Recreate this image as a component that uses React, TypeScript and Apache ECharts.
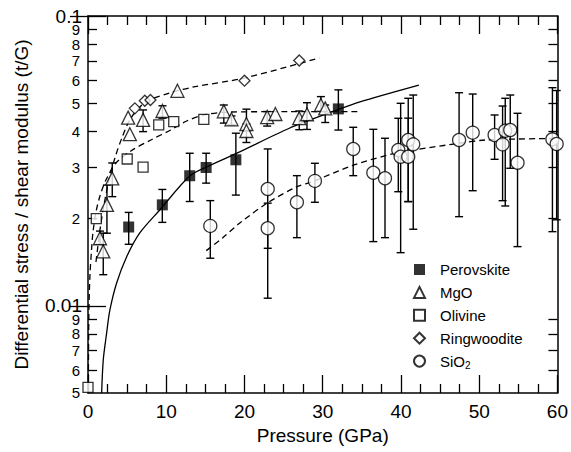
import React, { useEffect, useRef } from 'react';
import * as echarts from 'echarts';

// ---------- data (pressure GPa, t/G) ----------
const perovskiteP = [5.2, 9.5, 13.0, 15.1, 18.9, 32.0];
const perovskiteR = [0.0187, 0.0223, 0.0281, 0.0300, 0.0319, 0.0478];
const perovskiteLo = [0.0163, 0.0194, 0.0229, 0.0265, 0.0241, 0.0404];
const perovskiteHi = [0.0210, 0.0252, 0.0336, 0.0336, 0.0394, 0.0556];

const mgoP = [1.53, 1.95, 2.42, 3.10, 5.13, 5.35, 7.04, 9.52, 11.43, 17.36, 18.34, 20.25, 20.25, 22.9, 23.95, 27.0, 27.99, 29.77, 30.32];
const mgoR = [0.0171, 0.0154, 0.0223, 0.0275, 0.0446, 0.0391, 0.0438, 0.0470, 0.0552, 0.0469, 0.0440, 0.0424, 0.0401, 0.0448, 0.0459, 0.0444, 0.0458, 0.0493, 0.0480];
const mgoLo = [0.0163, 0.0128, 0.0178, 0.0238, null, null, 0.0399, 0.0444, null, 0.0427, 0.0421, 0.0401, 0.0366, 0.0417, null, 0.0405, 0.0406, 0.0470, 0.0429];
const mgoHi = [0.0181, 0.0178, 0.0261, 0.0311, null, null, 0.0474, 0.0490, null, 0.0493, 0.0452, 0.0477, 0.0424, 0.0468, null, 0.0470, 0.0502, 0.0527, 0.0493];

const olivineP = [0.0, 1.06, 5.01, 7.04, 9.04, 10.96, 14.8];
const olivineR = [0.00523, 0.0200, 0.0321, 0.0301, 0.0421, 0.0432, 0.0440];

const ringwooditeP = [5.99, 7.26, 7.98, 20.0, 27.0];
const ringwooditeR = [0.0480, 0.0510, 0.0513, 0.0598, 0.0702];

const sio2P = [15.63, 22.97, 22.97, 26.7, 29.0, 33.9, 36.47, 37.96, 39.66, 39.96, 40.93, 40.93, 41.57, 47.43, 49.17, 51.97, 52.99, 53.33, 53.97, 54.9, 59.36, 59.9];
const sio2R = [0.01886, 0.0253, 0.01851, 0.02276, 0.02697, 0.03477, 0.02879, 0.02754, 0.03447, 0.03268, 0.03733, 0.03268, 0.03607, 0.03733, 0.03957, 0.03885, 0.03607, 0.04018, 0.04041, 0.03117, 0.03754, 0.03617];
const sio2Lo = [0.01459, 0.01579, 0.01062, 0.01718, 0.02276, 0.02812, 0.01665, 0.01718, 0.02475, 0.01525, 0.02287, 0.0229, 0.01837, 0.0203, 0.02495, 0.03202, 0.02305, 0.0221, 0.02982, 0.016, 0.01802, 0.0198];
const sio2Hi = [0.02306, 0.03477, 0.0226, 0.02812, 0.03103, 0.0413, 0.04064, 0.03785, 0.04436, 0.04997, 0.052, 0.0444, 0.05337, 0.05435, 0.05379, 0.04554, 0.0489, 0.052, 0.05337, 0.04616, 0.05658, 0.0553];

// fitted curves
const fitUpperP = [1.02, 1.53, 2.04, 2.68, 3.44, 4.33, 5.48, 7.39, 10.45, 13.5, 20.0, 29.55];
const fitUpperR = [0.01416, 0.01827, 0.02227, 0.02716, 0.03236, 0.03793, 0.04446, 0.05048, 0.05424, 0.05689, 0.06109, 0.07163];

const fitMidP = [0.04, 0.08, 0.13, 0.25, 0.45, 0.64, 1.02, 1.53, 2.29, 3.57, 5.48, 8.03, 10.57, 12.61, 14.78, 18.09, 25.73, 34.9];
const fitMidR = [0.005123, 0.00762, 0.01006, 0.01277, 0.01558, 0.01798, 0.02107, 0.02393, 0.02716, 0.0311, 0.03421, 0.03734, 0.04043, 0.04342, 0.04553, 0.04663, 0.04675, 0.04675];

const fitPvP = [1.745, 1.95, 2.38, 2.8, 3.66, 4.93, 6.62, 9.17, 12.99, 15.16, 19.11, 25.73, 31.85, 34.65, 42.29];
const fitPvR = [0.005, 0.0065, 0.00805, 0.00967, 0.01199, 0.01474, 0.01783, 0.02141, 0.02804, 0.03013, 0.03368, 0.04098, 0.0474, 0.05048, 0.05779];

const fitSiP = [15.12, 17.2, 19.36, 22.93, 26.62, 28.66, 34.01, 39.36, 41.66, 47.39, 50.83, 59.75];
const fitSiR = [0.0155, 0.01714, 0.01926, 0.02263, 0.0257, 0.0268, 0.03061, 0.03368, 0.03449, 0.03636, 0.03734, 0.03779];

const xTickLabels = [0, 10, 20, 30, 40, 50, 60];
const yMajorTicks = [0.01, 0.0999999];
const yMinorTicks = [0.006, 0.007, 0.008, 0.009, 0.02, 0.03, 0.04, 0.05, 0.06, 0.07, 0.08, 0.09];
const yMinorLabelValues = [0.0050001, 0.006, 0.007, 0.008, 0.009, 0.02, 0.03, 0.04, 0.05, 0.06, 0.07, 0.08, 0.09];
const yMajorLabelValues = [0.01, 0.0999999];

const FONT = '"Liberation Sans", Arial, Helvetica, sans-serif';

const pairs = (p: number[], r: number[]) => p.map((x, i) => [x, r[i]]);
const errs = (p: number[], lo: (number | null)[], hi: (number | null)[]) =>
  p.map((x, i) => (lo[i] == null ? null : [x, lo[i], hi[i]])).filter(Boolean);

const errorRender = (_params: any, api: any) => {
  const x = api.value(0);
  const a = api.coord([x, api.value(1)]);
  const b = api.coord([x, api.value(2)]);
  const hw = 4;
  const st = { stroke: '#000', lineWidth: 1.4 };
  return {
    type: 'group',
    children: [
      { type: 'line', shape: { x1: a[0], y1: a[1], x2: b[0], y2: b[1] }, style: st },
      { type: 'line', shape: { x1: a[0] - hw, y1: a[1], x2: a[0] + hw, y2: a[1] }, style: st },
      { type: 'line', shape: { x1: b[0] - hw, y1: b[1], x2: b[0] + hw, y2: b[1] }, style: st },
    ],
  };
};

const yMajorFmt = (v: number) => (Math.abs(v - 0.1) < 1e-5 ? '0.1' : '0.01');
const yMinorFmt = (v: number) => {
  const e = Math.floor(Math.log10(v) + 1e-6);
  return String(Math.round(v / Math.pow(10, e)));
};

const lineColor = '#000';

export default function App() {
  const ref = useRef<HTMLDivElement>(null);
  useEffect(() => {
    if (!ref.current) return;
    const chart = echarts.init(ref.current, undefined, { renderer: 'svg' });
    const axisLine = { show: true, onZero: false, lineStyle: { color: lineColor, width: 1.5 } };
    const xBase = {
      type: 'value', min: 0, max: 60, interval: 10,
      axisLine,
      splitLine: { show: false },
      axisTick: { show: true, inside: true, length: 18, lineStyle: { color: lineColor, width: 1.3 } },
      minorTick: { show: true, splitNumber: 4, length: 9, lineStyle: { color: lineColor, width: 1.3 } },
    };
    const yBase = {
      type: 'log', logBase: 10, min: 0.005, max: 0.1,
      splitLine: { show: false },
      minorTick: { show: false },
      minorSplitLine: { show: false },
    };
    const openStyle = { color: '#fff', borderColor: '#000', borderWidth: 1.3 };
    const dashed = { color: '#000', width: 1.3, type: [6, 4] };
    const sm = 0.3;

    chart.setOption({
      animation: false,
      backgroundColor: '#fff',
      grid: { left: 88, right: 12, top: 16, bottom: 59, containLabel: false },
      xAxis: [
        {
          ...xBase, position: 'bottom',
          name: 'Pressure (GPa)', nameLocation: 'middle', nameGap: 33,
          nameTextStyle: { fontSize: 19, color: '#000', fontFamily: FONT },
          axisLabel: { show: true, margin: 9, fontSize: 19, color: '#000', fontFamily: FONT, customValues: xTickLabels, showMinLabel: true, showMaxLabel: true },
        },
        { ...xBase, position: 'top', axisLabel: { show: false } },
      ],
      yAxis: [
        {
          ...yBase, position: 'left',
          axisLine,
          name: 'Differential stress / shear modulus (t/G)', nameLocation: 'middle', nameGap: 57,
          nameTextStyle: { fontSize: 19, color: '#000', fontFamily: FONT },
          axisTick: { show: true, inside: true, length: 9, customValues: yMinorTicks, lineStyle: { color: lineColor, width: 1.3 } },
          axisLabel: {
            show: true, margin: 8, fontSize: 15, color: '#000', fontFamily: FONT, customValues: yMinorLabelValues,
            showMinLabel: true, showMaxLabel: true, formatter: yMinorFmt,
          },
        },
        {
          ...yBase, position: 'left',
          axisLine: { show: false },
          axisTick: { show: true, inside: true, length: 18, customValues: yMajorTicks, lineStyle: { color: lineColor, width: 1.3 } },
          axisLabel: {
            show: true, margin: 6, fontSize: 19, color: '#000', fontFamily: FONT, customValues: yMajorLabelValues,
            showMinLabel: true, showMaxLabel: true, formatter: yMajorFmt,
          },
        },
        {
          ...yBase, position: 'right',
          axisLine,
          axisTick: { show: true, inside: true, length: 9, customValues: yMinorTicks, lineStyle: { color: lineColor, width: 1.3 } },
          axisLabel: { show: false },
        },
        {
          ...yBase, position: 'right',
          axisLine: { show: false },
          axisTick: { show: true, inside: true, length: 18, customValues: yMajorTicks, lineStyle: { color: lineColor, width: 1.3 } },
          axisLabel: { show: false },
        },
      ],
      legend: {
        orient: 'vertical', left: 408, top: 257, itemGap: 7.9, itemWidth: 11, itemHeight: 11,
        data: ['Perovskite', 'MgO', 'Olivine', 'Ringwoodite', 'SiO2'],
        formatter: (name: string) => (name === 'SiO2' ? 'SiO{sub|2}' : name),
        textStyle: {
          fontSize: 15, color: '#000', fontFamily: FONT, padding: [0, 0, 0, 10],
          rich: { sub: { fontSize: 10, fontFamily: FONT, color: '#000', padding: [9, 0, 0, 0] } },
        },
      },
      series: [
        { type: 'line', name: 'fitUpper', data: pairs(fitUpperP, fitUpperR), smooth: sm, symbol: 'none', lineStyle: dashed, z: 2, silent: true },
        { type: 'line', name: 'fitMid', data: pairs(fitMidP, fitMidR), smooth: sm, symbol: 'none', lineStyle: dashed, z: 2, silent: true },
        { type: 'line', name: 'fitPv', data: pairs(fitPvP, fitPvR), smooth: sm, symbol: 'none', lineStyle: { color: '#000', width: 1.3 }, z: 2, silent: true },
        { type: 'line', name: 'fitSi', data: pairs(fitSiP, fitSiR), smooth: sm, symbol: 'none', lineStyle: dashed, z: 2, silent: true },
        { type: 'custom', name: 'errPv', renderItem: errorRender, data: errs(perovskiteP, perovskiteLo, perovskiteHi), encode: { x: 0, y: [1, 2] }, z: 3 },
        { type: 'custom', name: 'errMgO', renderItem: errorRender, data: errs(mgoP, mgoLo, mgoHi), encode: { x: 0, y: [1, 2] }, z: 3 },
        { type: 'custom', name: 'errSi', renderItem: errorRender, data: errs(sio2P, sio2Lo, sio2Hi), encode: { x: 0, y: [1, 2] }, z: 3 },
        { type: 'scatter', name: 'Perovskite', data: pairs(perovskiteP, perovskiteR), symbol: 'rect', symbolSize: 11, itemStyle: { color: '#000' }, z: 4, clip: false },
        { type: 'scatter', name: 'MgO', data: pairs(mgoP, mgoR), symbol: 'triangle', symbolSize: 13, itemStyle: openStyle, z: 4, clip: false },
        { type: 'scatter', name: 'Olivine', data: pairs(olivineP, olivineR), symbol: 'rect', symbolSize: 10, itemStyle: openStyle, z: 4, clip: false },
        { type: 'scatter', name: 'Ringwoodite', data: pairs(ringwooditeP, ringwooditeR), symbol: 'diamond', symbolSize: 11, itemStyle: openStyle, z: 4, clip: false },
        { type: 'scatter', name: 'SiO2', data: pairs(sio2P, sio2R), symbol: 'circle', symbolSize: 13, itemStyle: openStyle, z: 4, clip: false },
      ],
    });
    return () => chart.dispose();
  }, []);
  return <div ref={ref} style={{ position: 'fixed', left: 0, top: 0, width: 571, height: 452 }} />;
}
